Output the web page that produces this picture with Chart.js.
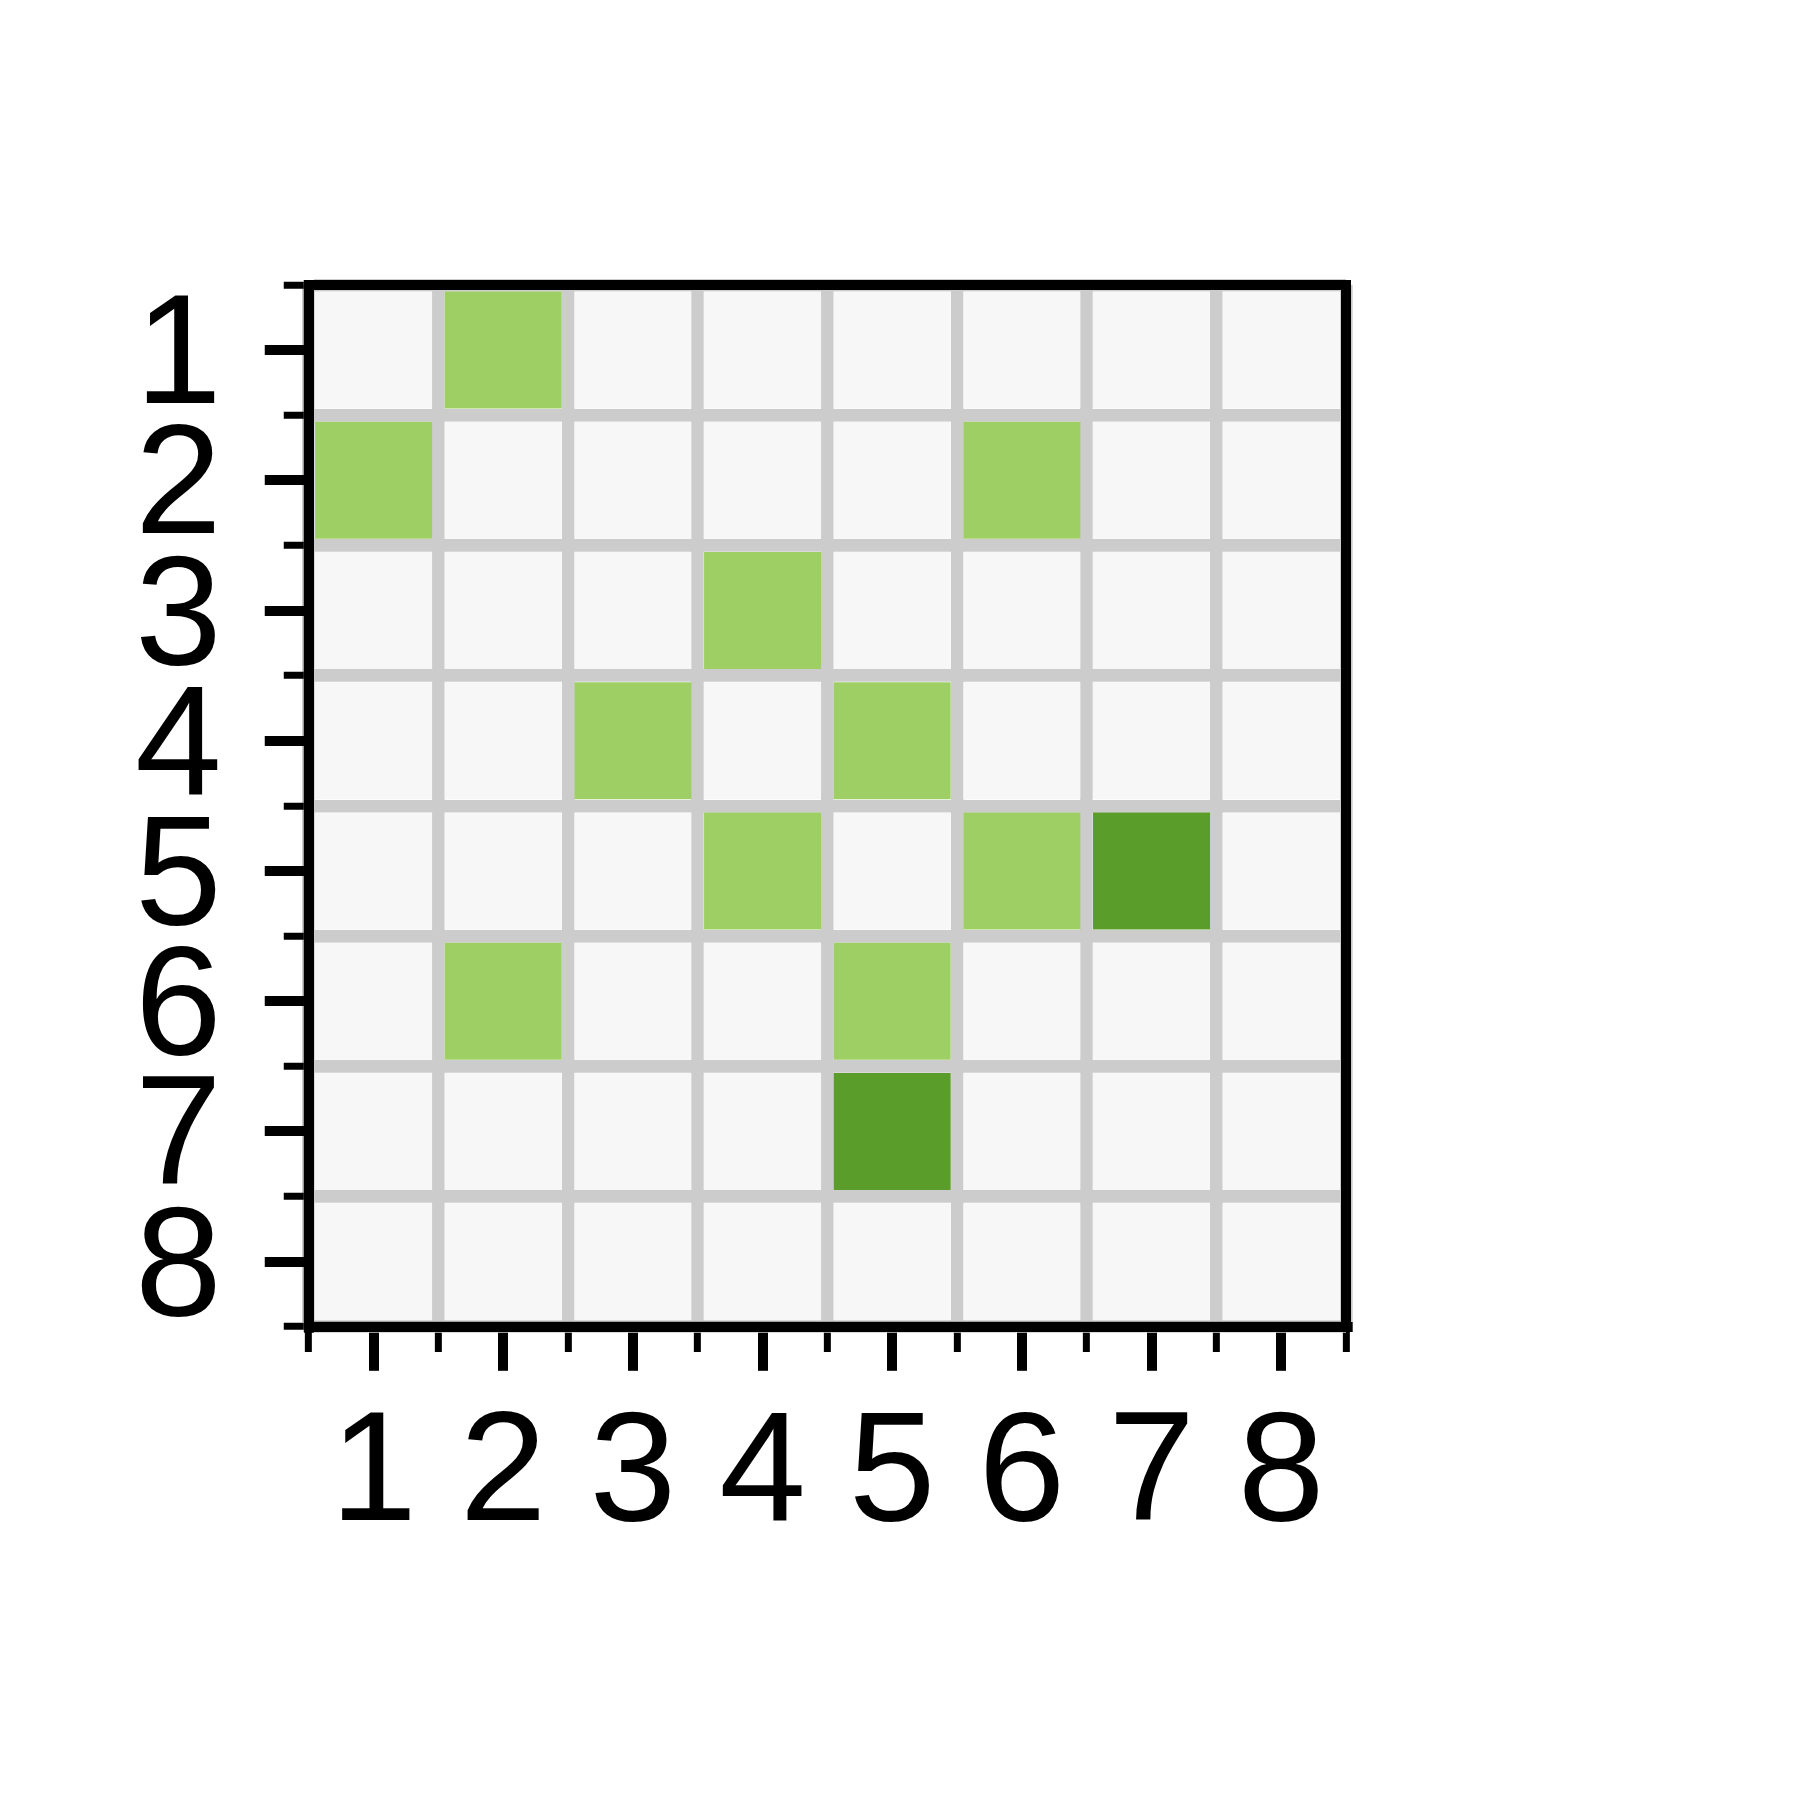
<!DOCTYPE html>
<html>
<head>
<meta charset="utf-8">
<script src="https://cdn.jsdelivr.net/npm/chart.js@4/dist/chart.umd.min.js"></script>
<style>
html,body{margin:0;padding:0;background:#ffffff;}
#wrap{width:1800px;height:1800px;}
</style>
</head>
<body>
<div id="wrap"><canvas id="c" width="1800" height="1800"></canvas></div>
<script>
// ---- data ----
const rowLabels = ['1','2','3','4','5','6','7','8'];
const colLabels = ['1','2','3','4','5','6','7','8'];
const row1 = [0,1,0,0,0,0,0,0];
const row2 = [1,0,0,0,0,1,0,0];
const row3 = [0,0,0,1,0,0,0,0];
const row4 = [0,0,1,0,1,0,0,0];
const row5 = [0,0,0,1,0,1,2,0];
const row6 = [0,1,0,0,1,0,0,0];
const row7 = [0,0,0,0,2,0,0,0];
const row8 = [0,0,0,0,0,0,0,0];
const matrix = [row1,row2,row3,row4,row5,row6,row7,row8];
const cellColors = ['#f7f7f7','#9dcf64','#5b9d2a'];

// ---- build points ----
const points = [];
matrix.forEach((row, r) => row.forEach((v, c) => points.push({x: c + 1, y: r + 1, v: v})));

const cellFill = 0.9025;
const FONT = {family: '"Liberation Sans", Arial, sans-serif', size: 156};
const isCenter = v => Math.abs(v - Math.round(v)) < 1e-9;

function makeTicks(n) {
  const t = [];
  for (let i = 0; i <= 2 * n; i++) t.push({value: 0.5 + i * 0.5});
  return t;
}

function axis(labels, minorDash, extra) {
  return Object.assign({
    type: 'linear',
    min: 0.5,
    max: labels.length + 0.5,
    afterBuildTicks: s => { s.ticks = makeTicks(labels.length); },
    grid: {
      drawOnChartArea: true,
      drawTicks: true,
      tickLength: 44,
      color: c => isCenter(c.tick.value) ? 'rgba(0,0,0,0)' : '#cccccc',
      lineWidth: c => isCenter(c.tick.value) ? 0 : 12.7,
      tickColor: '#000000',
      tickWidth: c => isCenter(c.tick.value) ? 10 : 7,
      tickBorderDash: c => isCenter(c.tick.value) ? [] : minorDash
    },
    border: {display: true, color: '#000000', width: 10}
  }, extra);
}

const framePlugin = {
  id: 'frame',
  afterDraw(chart) {
    const {ctx, chartArea: a} = chart;
    ctx.save();
    ctx.lineWidth = 10;
    ctx.strokeStyle = '#000000';
    ctx.strokeRect(a.left, a.top, a.right - a.left, a.bottom - a.top);
    ctx.restore();
  }
};

new Chart(document.getElementById('c'), {
  type: 'scatter',
  data: {
    datasets: [{
      data: points,
      pointStyle: 'rect',
      pointBorderWidth: 0,
      borderWidth: 0,
      backgroundColor: ctx => cellColors[ctx.raw ? ctx.raw.v : 0],
      pointBackgroundColor: ctx => cellColors[ctx.raw ? ctx.raw.v : 0],
      pointRadius: ctx => {
        const s = ctx.chart.scales.x;
        return Math.abs(s.getPixelForValue(2) - s.getPixelForValue(1)) * cellFill / Math.SQRT2;
      },
      clip: false
    }]
  },
  options: {
    responsive: false,
    animation: false,
    events: [],
    layout: {padding: {left: 92, right: 454, top: 285, bottom: 216}},
    plugins: {legend: {display: false}, tooltip: {enabled: false}},
    scales: {
      x: axis(colLabels, [20, 400], {position: 'bottom', ticks: {
        autoSkip: false, maxRotation: 0, minRotation: 0, color: '#000000', font: FONT, padding: 13,
        callback: v => isCenter(v) ? colLabels[Math.round(v) - 1] : ''
      }}),
      y: axis(rowLabels, [0, 19, 20, 400], {position: 'left', reverse: true, ticks: {
        autoSkip: false, color: '#000000', font: FONT, padding: 43, labelOffset: 10,
        callback: v => isCenter(v) ? rowLabels[Math.round(v) - 1] : ''
      }})
    }
  },
  plugins: [framePlugin]
});
</script>
</body>
</html>
